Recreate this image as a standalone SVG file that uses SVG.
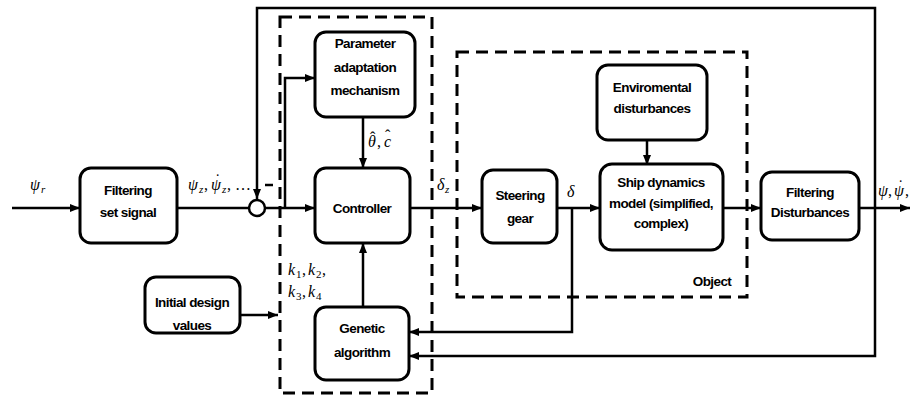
<svg xmlns="http://www.w3.org/2000/svg" width="911" height="397" viewBox="0 0 911 397">
<style>
.box{fill:#fff;stroke:#000;stroke-width:3}
.dash{fill:none;stroke:#000;stroke-width:3;stroke-dasharray:12 7}
.ln{fill:none;stroke:#000;stroke-width:2.5}
.t{font-family:"Liberation Sans",Arial,sans-serif;font-weight:bold;font-size:13.5px;text-anchor:middle;letter-spacing:-0.6px}
.lab{font-family:"Liberation Serif","DejaVu Serif",serif;font-size:16px}
.m{font-style:italic}
.s{font-style:italic;font-size:11px}
.sn{font-size:11px}
</style>
<defs>
<marker id="ah" markerWidth="10" markerHeight="8" refX="10" refY="4" orient="auto" markerUnits="userSpaceOnUse">
<path d="M0,0 L10,4 L0,8 Z" fill="#000"/>
</marker>
</defs>
<rect width="911" height="397" fill="#fff"/>
<g id="groups">
<rect class="dash" x="280" y="17" width="152" height="376"/>
<rect class="dash" x="457" y="52" width="290" height="245"/>
<text class="t" x="712" y="286">Object</text>
</g>
<g id="connectors">
<line class="ln" x1="12" y1="208" x2="80" y2="208" marker-end="url(#ah)"/>
<line class="ln" x1="177" y1="208" x2="249" y2="208"/>
<line class="ln" x1="265" y1="208" x2="315" y2="208" marker-end="url(#ah)"/>
<polyline class="ln" points="285,208 285,78 315,78" marker-end="url(#ah)"/>
<line class="ln" x1="363" y1="117" x2="363" y2="168" marker-end="url(#ah)"/>
<line class="ln" x1="363" y1="307" x2="363" y2="243" marker-end="url(#ah)"/>
<line class="ln" x1="240" y1="315" x2="278" y2="315" marker-end="url(#ah)"/>
<line class="ln" x1="410" y1="208" x2="482" y2="208" marker-end="url(#ah)"/>
<line class="ln" x1="557" y1="208" x2="600" y2="208" marker-end="url(#ah)"/>
<line class="ln" x1="647" y1="140" x2="647" y2="165" marker-end="url(#ah)"/>
<line class="ln" x1="723" y1="208" x2="761" y2="208" marker-end="url(#ah)"/>
<line class="ln" x1="859" y1="208" x2="910" y2="208" marker-end="url(#ah)"/>
<polyline class="ln" points="875,208 875,8 257,8 257,199" marker-end="url(#ah)"/>
<polyline class="ln" points="875,208 875,356 409,356" marker-end="url(#ah)"/>
<polyline class="ln" points="572,208 572,332 409,332" marker-end="url(#ah)"/>
<line x1="265" y1="185" x2="273" y2="185" stroke="#000" stroke-width="2.5"/>
</g>
<g id="sum"><circle cx="257" cy="208" r="8" fill="#fff" stroke="#000" stroke-width="2.5"/></g>
<g id="filter-set">
<rect class="box" x="80" y="168" width="97" height="75" rx="11"/>
<text class="t" x="128" y="195">Filtering</text>
<text class="t" x="128" y="217">set signal</text>
</g>
<g id="pam">
<rect class="box" x="315" y="32" width="100" height="85" rx="11"/>
<text class="t" x="365" y="48">Parameter</text>
<text class="t" x="365" y="72">adaptation</text>
<text class="t" x="365" y="95">mechanism</text>
</g>
<g id="controller">
<rect class="box" x="315" y="168" width="95" height="75" rx="11"/>
<text class="t" x="362" y="213">Controller</text>
</g>
<g id="ga">
<rect class="box" x="315" y="307" width="94" height="73" rx="11"/>
<text class="t" x="362" y="333">Genetic</text>
<text class="t" x="362" y="357">algorithm</text>
</g>
<g id="initial">
<rect class="box" x="145" y="277" width="95" height="56" rx="11"/>
<text class="t" x="192" y="307">Initial design</text>
<text class="t" x="192" y="330">values</text>
</g>
<g id="steering">
<rect class="box" x="482" y="170" width="75" height="73" rx="11"/>
<text class="t" x="520" y="200">Steering</text>
<text class="t" x="520" y="223">gear</text>
</g>
<g id="ship">
<rect class="box" x="600" y="164" width="123" height="86" rx="12"/>
<text class="t" x="661" y="187">Ship dynamics</text>
<text class="t" x="661" y="208">model (simplified,</text>
<text class="t" x="661" y="228">complex)</text>
</g>
<g id="env">
<rect class="box" x="597" y="65" width="110" height="75" rx="11"/>
<text class="t" x="652" y="92">Enviromental</text>
<text class="t" x="652" y="113">disturbances</text>
</g>
<g id="filter-dist">
<rect class="box" x="761" y="172" width="98" height="68" rx="11"/>
<text class="t" x="810" y="197">Filtering</text>
<text class="t" x="810" y="217">Disturbances</text>
</g>
<g id="labels">
<text class="lab"><tspan class="m" x="30" y="190">ψ</tspan><tspan class="s" x="41" y="193">r</tspan></text>
<text class="lab"><tspan class="m" x="188" y="190">ψ</tspan><tspan class="s" x="199" y="193">z</tspan><tspan x="204" y="190">,</tspan><tspan class="m" x="211" y="190">ψ</tspan><tspan x="215" y="185">˙</tspan><tspan class="s" x="222" y="193">z</tspan><tspan x="227" y="190">, …</tspan></text>
<text class="lab"><tspan class="m" x="368" y="147">θ</tspan><tspan x="370" y="143">ˆ</tspan><tspan x="377" y="147">,</tspan><tspan class="m" x="384" y="147">c</tspan><tspan x="385" y="141">ˆ</tspan></text>
<text class="lab"><tspan class="m" x="437" y="190">δ</tspan><tspan class="s" x="445" y="193">z</tspan></text>
<text class="lab m" x="567" y="197">δ</text>
<text class="lab"><tspan class="m" x="288" y="275">k</tspan><tspan class="sn" x="296" y="278">1</tspan><tspan x="302" y="275">,</tspan><tspan class="m" x="308" y="275">k</tspan><tspan class="sn" x="316" y="278">2</tspan><tspan x="322" y="275">,</tspan></text>
<text class="lab"><tspan class="m" x="288" y="297">k</tspan><tspan class="sn" x="296" y="300">3</tspan><tspan x="302" y="297">,</tspan><tspan class="m" x="308" y="297">k</tspan><tspan class="sn" x="316" y="300">4</tspan></text>
<text class="lab"><tspan class="m" x="878" y="196">ψ</tspan><tspan x="888" y="196">,</tspan><tspan class="m" x="894" y="196">ψ</tspan><tspan x="898" y="191">˙</tspan><tspan x="905" y="196">,</tspan></text>
</g>
</svg>
